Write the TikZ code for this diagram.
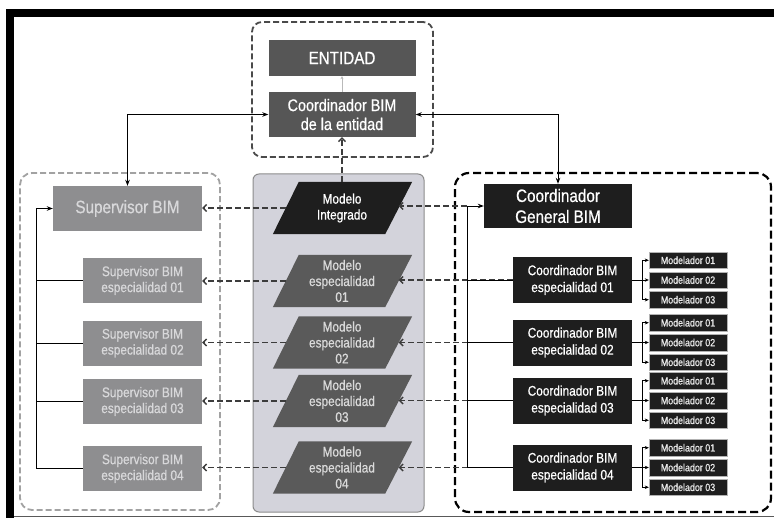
\documentclass[tikz,border=0pt]{standalone}
\usepackage{fontspec}
\setmainfont{Liberation Sans}[FakeStretch=0.85,FakeBold=0.6]
\usetikzlibrary{arrows.meta,calc}
\pgfdeclarelayer{bgA}
\pgfdeclarelayer{bgB}
\pgfsetlayers{bgA,bgB,main}
\definecolor{entfill}{HTML}{565656}
\definecolor{supfill}{HTML}{8E8E90}
\definecolor{suptext}{HTML}{D8D8DA}
\definecolor{coordfill}{HTML}{1E1E1E}
\definecolor{parfill}{HTML}{5A5A5A}
\definecolor{partext}{HTML}{DADADA}
\definecolor{cenfill}{HTML}{D3D3DB}
\definecolor{cenline}{HTML}{8C8C8C}
\definecolor{leftdash}{HTML}{A2A2A2}
\definecolor{topdash}{HTML}{4A4A4A}
\definecolor{conn}{HTML}{3C3C3C}
\begin{document}
\begin{tikzpicture}[x=1bp,y=-1bp,
  basebox/.style={rectangle, inner sep=0pt, align=center},
  entbox/.style={basebox, fill=entfill, text=white, minimum width=147bp},
  supbig/.style={basebox, fill=supfill, text=suptext, minimum width=149bp, minimum height=45bp, font=\fontsize{18}{21}\selectfont},
  supsm/.style={basebox, fill=supfill, text=suptext, minimum width=119bp, minimum height=45bp, font=\fontsize{14}{16}\selectfont},
  coordbig/.style={basebox, fill=coordfill, text=white, minimum width=148bp, minimum height=44bp, font=\fontsize{18}{21}\selectfont},
  coordsm/.style={basebox, fill=coordfill, text=white, minimum width=119bp, minimum height=46bp, font=\fontsize{14}{17}\selectfont},
  modl/.style={basebox, fill=coordfill, draw=gray!60, line width=0.4bp, text=white!92!black, minimum width=78bp, minimum height=16.5bp, font=\fontsize{10.5}{12}\selectfont},
  partxt/.style={basebox, minimum width=86bp, minimum height=52bp, font=\fontsize{14}{16}\selectfont},
  solidc/.style={draw=black, line width=0.9bp},
  sarrow/.style={solidc, -{Stealth[length=6bp,width=4.5bp]}},
  dcon/.style={draw=conn, line width=1.3bp, dash pattern=on 6bp off 3bp, -{Straight Barb[length=3.5bp,width=7bp]}},
  grpbox/.style={rectangle, inner sep=0pt}
]
\useasboundingbox (0,0) rectangle (774,518);
\begin{pgfonlayer}{bgA}
\fill[white] (0,0) rectangle (774,518);
\end{pgfonlayer}
% frame
\fill[black] (6,9) rectangle (774,17);
\fill[black] (6,9) rectangle (14,518);
\draw[gray!70!black, line width=1.5bp] (14,516.5) -- (774,516.5);

% groups
\node[grpbox, draw=topdash, line width=1.8bp, dash pattern=on 6bp off 3bp, rounded corners=10bp, minimum width=181bp, minimum height=135bp] (topgrp) at (342.5,89.5) {};
\node[grpbox, draw=leftdash, line width=1.8bp, dash pattern=on 6bp off 3bp, rounded corners=12bp, minimum width=200bp, minimum height=337bp] (leftgrp) at (120,341.5) {};
\begin{pgfonlayer}{bgA}
\node[grpbox, fill=cenfill, draw=cenline, line width=1bp, rounded corners=6bp, minimum width=171bp, minimum height=338bp] (cengrp) at (338.5,343) {};
\end{pgfonlayer}
\node[grpbox, draw=black, line width=2.2bp, dash pattern=on 8bp off 4bp, rounded corners=14bp, minimum width=316bp, minimum height=339bp] (rightgrp) at (613,342.5) {};

% top entity
\node[entbox, minimum height=36bp, font=\fontsize{18}{21}\selectfont] (ent) at (342,58) {ENTIDAD};
\node[entbox, minimum height=45bp, font=\fontsize{17}{19}\selectfont] (entC) at (342,114.5) {Coordinador BIM\\de la entidad};
\draw[gray!55, line width=0.6bp, -{Stealth[length=3bp,width=3bp]}] (entC.north) -- (ent.south);

% supervisors
\node[supbig] (supB) at (127.5,208.5) {Supervisor BIM};
\foreach \i/\y in {1/280.5,2/343,3/401.5,4/468.5}{
  \node[supsm] (s\i) at (142.5,\y) {Supervisor BIM\\especialidad 0\i};
}

% models
\node[partxt, text=white] (modI) at (342,208) {Modelo\\Integrado};
\begin{pgfonlayer}{bgB}
\fill[coordfill] (modI.north west) -- ([xshift=27bp]modI.north east) -- (modI.south east) -- ([xshift=-26bp]modI.south west) -- cycle;
\end{pgfonlayer}
\foreach \i/\y in {1/281,2/342.5,3/401,4/467.5}{
  \node[partxt, text=partext] (p\i) at (342,\y) {Modelo\\especialidad\\0\i};
  \begin{pgfonlayer}{bgB}
  \fill[parfill] (p\i.north west) -- ([xshift=27bp]p\i.north east) -- (p\i.south east) -- ([xshift=-26bp]p\i.south west) -- cycle;
  \end{pgfonlayer}
}

% coordinators
\node[coordbig] (cG) at (558,206) {Coordinador\\General BIM};
\foreach \i/\y in {1/280,2/342.5,3/400.5,4/467.5}{
  \node[coordsm] (c\i) at (572.5,\y) {Coordinador BIM\\especialidad 0\i};
  \foreach \j/\dy in {1/-19.75,2/0,3/19.75}{
    \node[modl] (m\i\j) at (688,\y+\dy) {Modelador 0\j};
  }
  \coordinate (j\i) at (642,\y);
  \draw[line width=0.6bp] (c\i.east) -- (j\i);
  \draw[line width=0.6bp] (j\i |- m\i1.west) -- (j\i |- m\i3.west);
  \foreach \j in {1,2,3}{
    \draw[line width=0.6bp, -{Stealth[length=4bp,width=3.5bp]}] (j\i |- m\i\j.west) -- (m\i\j.west);
  }
}

% top connectors
\draw[solidc, {Stealth[length=6bp,width=4.5bp]}-{Stealth[length=6bp,width=4.5bp]}] (entC.west) -| (supB.north);
\draw[solidc, {Stealth[length=6bp,width=4.5bp]}-{Stealth[length=6bp,width=4.5bp]}] (entC.east) -| (cG.north);
\draw[dcon] (modI.north) -- (entC.south);

% left side tree
\coordinate (vl) at (36,0);
\draw[solidc] (vl |- s4.west) -- (vl |- supB.west);
\draw[sarrow] (vl |- supB.west) -- (supB.west);
\foreach \i in {1,2,3,4}{
  \draw[solidc] (s\i.west) -- (vl |- s\i.west);
}

% dashed connectors model -> supervisors
\draw[dcon] ([xshift=-13bp]modI.west) -- (supB.east |- modI.west);
\foreach \i in {1,2,3,4}{
  \draw[dcon] ([xshift=-13bp]p\i.west) -- (s\i.east |- p\i.west);
}

% right side tree
\coordinate (vr) at (467,0);
\draw[dcon] (vr |- cG.west) -- ([xshift=13.5bp]modI.east |- cG.west);
\foreach \i in {1,2,3,4}{
  \draw[dcon] (c\i.west) -- ([xshift=13.5bp]p\i.east |- c\i.west);
}
\draw[solidc] (vr |- c4.west) -- (vr |- cG.west);
\draw[sarrow] (vr |- cG.west) -- (cG.west);
\foreach \i in {1,2,3,4}{
  \draw[solidc] (c\i.west) -- (vr |- c\i.west);
}
\end{tikzpicture}
\end{document}
